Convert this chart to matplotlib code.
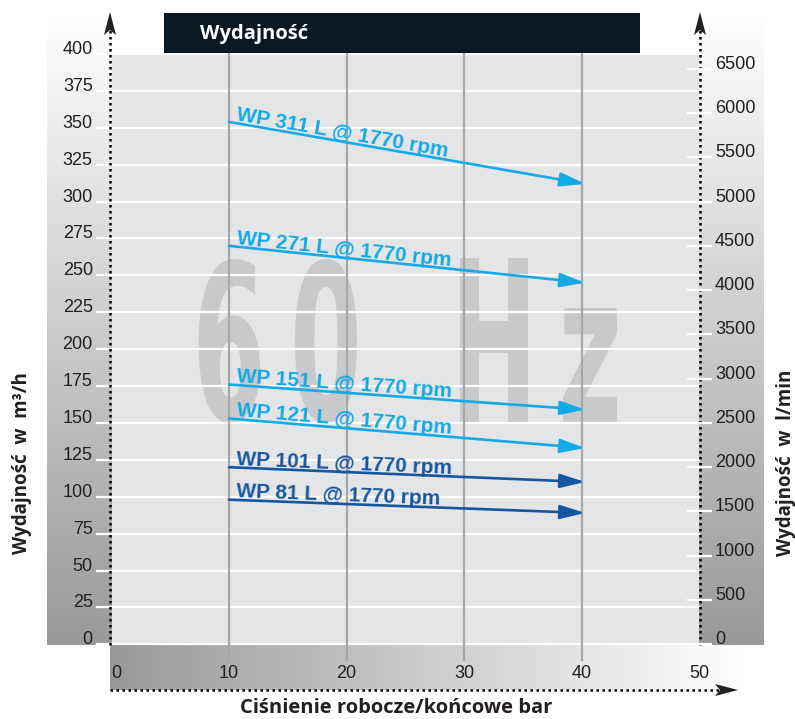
import numpy as np
import matplotlib
matplotlib.use('Agg')
import matplotlib.pyplot as plt
from matplotlib.textpath import TextPath
from matplotlib.patches import PathPatch, Polygon, Rectangle
from matplotlib.path import Path
from matplotlib.font_manager import FontProperties

# data (m3/h at 10 bar and 40 bar)
models = ['WP 311 L', 'WP 271 L', 'WP 151 L', 'WP 121 L', 'WP 101 L', 'WP 81 L']
speed = '1770 rpm'
p_start = [10, 10, 10, 10, 10, 10]
p_end = [40, 40, 40, 40, 40, 40]
q_start = [354, 270, 176, 153, 120, 98]
q_end = [312, 245, 159, 133, 110, 89]
series_colors = ['#14aae6', '#14aae6', '#14aae6', '#14aae6', '#1656a0', '#1656a0']

x_ticks = [0, 10, 20, 30, 40, 50]
y_ticks = list(range(0, 401, 25))
lmin_ticks = list(range(0, 6501, 500))

title = 'Wydajność'
xlabel = 'Ciśnienie robocze/końcowe bar'
ylabel_left = 'Wydajność w m³/h'
ylabel_right = 'Wydajność w l/min'

W, H = 795, 719
fig = plt.figure(figsize=(W / 100, H / 100), dpi=100)

# background axes in pixel units (y down)
bg = fig.add_axes([0, 0, 1, 1], zorder=0)
bg.set_xlim(0, W)
bg.set_ylim(H, 0)
bg.axis('off')
px = bg.transData

vgrad = np.linspace(0, 1, 256).reshape(-1, 1)
hgrad = np.linspace(0, 1, 256).reshape(1, -1)
light = np.array([1.0, 1.0, 1.0])
dark = np.array([0.60, 0.60, 0.61])


def grad_img(t):
    return light * (1 - t[..., None]) + dark * t[..., None]


bg.imshow(grad_img(vgrad), extent=(47, 112, 645, 15), aspect='auto', zorder=0)
bg.imshow(grad_img(vgrad), extent=(698, 764, 645, 15), aspect='auto', zorder=0)
bg.imshow(grad_img(1 - hgrad), extent=(110, 745, 690, 645), aspect='auto', zorder=0)

# main axes
L, R, T, B = 111.5, 699, 54, 644.3
ax = fig.add_axes([L / W, 1 - B / H, (R - L) / W, (B - T) / H], zorder=1)
ax.set_facecolor('#e4e5e7')
ax.set_xlim(0, 50)
ax.set_ylim(0, 400)
for s in ax.spines.values():
    s.set_visible(False)

# "60 Hz" watermark, each glyph squeezed into its box
wm_font = FontProperties(family='DejaVu Sans', weight='bold')
wm_boxes = [('6', 192, 260, 259, 423), ('0', 290, 357, 259, 423),
            ('H', 450, 528, 258, 423), ('z', 558, 617, 308, 423)]
for ch, x0, x1, y0, y1 in wm_boxes:
    tp = TextPath((0, 0), ch, size=100, prop=wm_font)
    v = tp.vertices.copy()
    bx0, by0 = v.min(axis=0)
    bx1, by1 = v.max(axis=0)
    nv = np.empty_like(v)
    nv[:, 0] = x0 + (v[:, 0] - bx0) / (bx1 - bx0) * (x1 - x0)
    nv[:, 1] = y1 - (v[:, 1] - by0) / (by1 - by0) * (y1 - y0)
    ax.add_patch(PathPatch(Path(nv, tp.codes), transform=px, fc='#c8c9cb',
                           ec='none', zorder=0.5, clip_on=False))

# grid
for y in y_ticks:
    ax.axhline(y, xmin=-0.025, xmax=1, color='white', lw=1.6, zorder=1, clip_on=False)
for x in x_ticks[1:-1]:
    ax.axvline(x, ymin=-0.027, ymax=1, color='#a6a7a9', lw=1.6, zorder=1.2, clip_on=False)

tick_font = dict(family=['Liberation Sans', 'DejaVu Sans'], size=13, color='#231f20')
ax.set_yticks(y_ticks)
ax.set_yticklabels([str(v) for v in y_ticks], **tick_font)
ax.tick_params(axis='y', length=0, pad=13.5)
for lab in ax.get_yticklabels():
    lab.set_va('baseline')

ax.set_xticks(x_ticks)
ax.set_xticklabels([str(v) for v in x_ticks], **tick_font)
ax.tick_params(axis='x', length=0, pad=15)
ax.get_xticklabels()[0].set_ha('left')

ax2 = ax.twinx()
ax2.set_ylim(0, 400 * 1000 / 60)
for s in ax2.spines.values():
    s.set_visible(False)
ax2.set_yticks(lmin_ticks)
ax2.set_yticklabels([str(v) for v in lmin_ticks], **tick_font)
ax2.tick_params(axis='y', direction='inout', length=18, width=1.6, color='white', pad=2.5)
for lab in ax2.get_yticklabels():
    lab.set_va('baseline')

# series arrows and labels
lab_font = dict(family=['Liberation Sans', 'DejaVu Sans'], weight='bold', size=15)
for m, xs, xe, qs, qe, c in zip(models, p_start, p_end, q_start, q_end, series_colors):
    ax.annotate('', xy=(xe + 0.3, qe), xytext=(xs, qs),
                arrowprops=dict(arrowstyle='-|>,head_length=1.5,head_width=0.42',
                                color=c, lw=1.9, shrinkA=0, shrinkB=0), zorder=3)
    ang = np.degrees(np.arctan2(qe - qs, xe + 0.3 - xs))
    tx = xs + 0.6
    ty = qs + (qe - qs) * (tx - xs) / (xe + 0.3 - xs) + 2.0
    ax.text(tx, ty, f'{m} @ {speed}', color=c, rotation=ang, rotation_mode='anchor',
            transform_rotates_text=True, ha='left', va='baseline', zorder=4, **lab_font)

# title bar
ax.add_patch(Rectangle((164, 13), 476, 40, transform=px, fc='#0b1822', ec='none',
                       zorder=5, clip_on=False))
ax.text(200, 34, title, transform=px, color='white', ha='left', va='center',
        family=['Open Sans', 'DejaVu Sans'], weight='bold', size=14.5, zorder=6)

# dotted axis arrows
dot = dict(color='black', lw=1.8, ls=(0, (1, 1.4)), transform=px, clip_on=False, zorder=6)
ax.plot([110, 110], [645, 30], **dot)
ax.plot([700, 700], [645, 30], **dot)
ax.plot([110, 722], [690, 690], **dot)
for xa in (110, 700):
    ax.add_patch(Polygon([(xa, 12), (xa - 6, 35), (xa, 30), (xa + 6, 35)], closed=True,
                         transform=px, fc='#231f20', ec='none', zorder=7, clip_on=False))
ax.add_patch(Polygon([(738, 690), (715, 684), (720, 690), (715, 696)], closed=True,
                     transform=px, fc='#231f20', ec='none', zorder=7, clip_on=False))

# axis titles
ttl_font = dict(family=['Open Sans', 'DejaVu Sans'], weight='bold', size=13.5, color='#231f20')
ax.text(22, 463, '  '.join(ylabel_left.split(' ')), transform=px, rotation=90,
        ha='center', va='center', **ttl_font)
ax.text(786, 463, '  '.join(ylabel_right.split(' ')), transform=px, rotation=90,
        ha='center', va='center', **ttl_font)
ax.text(396, 708, xlabel, transform=px, ha='center', va='center',
        family=['Open Sans', 'DejaVu Sans'], weight='bold', size=14.5, color='#231f20')

fig.savefig('out.png', dpi=100)
